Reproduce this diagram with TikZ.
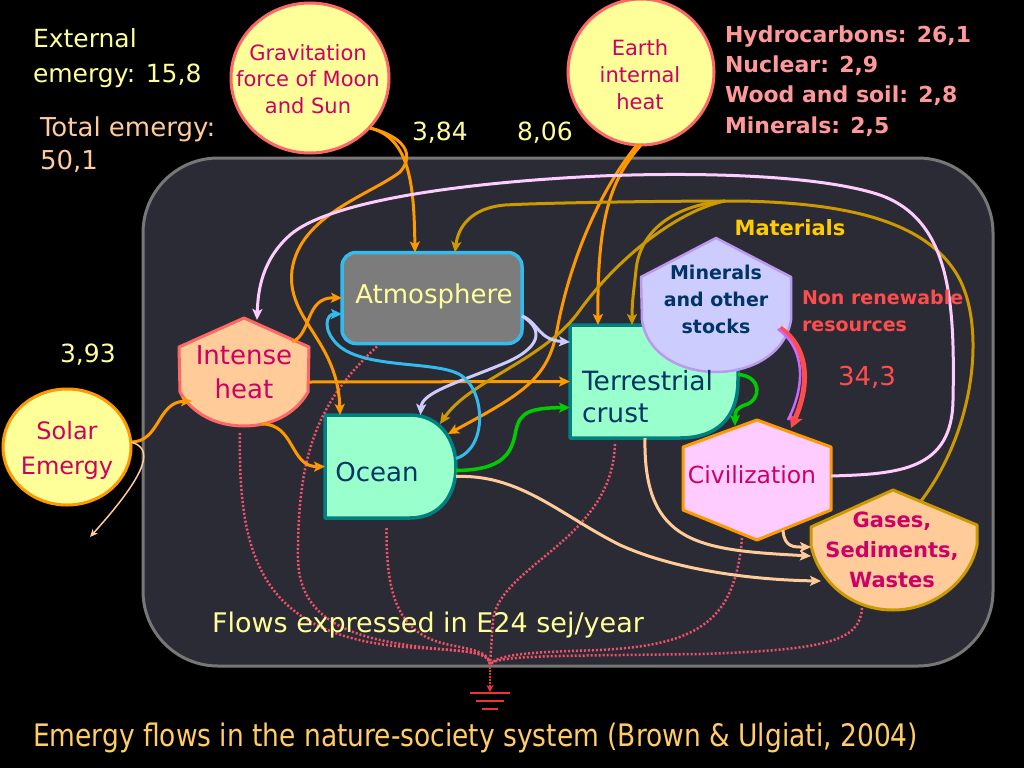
\documentclass[tikz,border=0pt]{standalone}
\usepackage{fontspec}
\usepackage{graphicx}
\setmainfont{DejaVu Sans}
\usetikzlibrary{arrows.meta,calc,shapes.geometric}
\definecolor{frameFill}{HTML}{2B2B36}
\definecolor{frameLine}{HTML}{777777}
\definecolor{lightYellow}{HTML}{FFFF99}
\definecolor{peach}{HTML}{FFCC99}
\definecolor{magentaText}{HTML}{CC0066}
\definecolor{circleRed}{HTML}{FF6666}
\definecolor{flowOrange}{HTML}{FF9900}
\definecolor{goldLine}{HTML}{CC9900}
\definecolor{pinkLine}{HTML}{FFCCFF}
\definecolor{lavender}{HTML}{CCCCFF}
\definecolor{skyBlue}{HTML}{33BBEE}
\definecolor{flowGreen}{HTML}{00CC00}
\definecolor{tealLine}{HTML}{008080}
\definecolor{mint}{HTML}{99FFCC}
\definecolor{navyText}{HTML}{003366}
\definecolor{salmon}{HTML}{FF9999}
\definecolor{nonrenewRed}{HTML}{FF4D4D}
\definecolor{matGold}{HTML}{FFCC00}
\definecolor{dotRed}{HTML}{F05068}
\definecolor{capYellow}{HTML}{FFCC66}
\definecolor{atmGray}{HTML}{7C7C7C}
\definecolor{minBorder}{HTML}{BB99EE}
\definecolor{minFill}{HTML}{CCCCFF}
\definecolor{civFill}{HTML}{FFCCFF}
\definecolor{purpleArrow}{HTML}{CC66FF}
\definecolor{groundRed}{HTML}{EE3333}
\tikzset{
  flowbase/.style={line width=3pt, -{Stealth[length=11pt,width=10pt,inset=2.5pt]}},
  oflow/.style={flowbase, draw=flowOrange},
  gflow/.style={flowbase, draw=goldLine},
  pflow/.style={flowbase, draw=pinkLine},
  lflow/.style={flowbase, draw=lavender},
  bflow/.style={flowbase, draw=skyBlue},
  grflow/.style={flowbase, draw=flowGreen, line width=3.5pt},
  pkflow/.style={flowbase, draw=peach},
  dots/.style={draw=dotRed, line width=2.5pt, dash pattern=on 2pt off 2pt},
  mintshape/.style={fill=mint, draw=tealLine, line width=3.5pt, line join=round},
  txt/.style={font=\fontsize{25}{33}\selectfont},
}
\begin{document}
\begin{tikzpicture}[x=1pt,y=-1pt, every node/.style={inner sep=0pt, outer sep=0pt}]
\useasboundingbox (0,0) rectangle (1024,768);
\fill[black] (0,0) rectangle (1024,768);
% frame
\draw[draw=frameLine, fill=frameFill, line width=3pt, rounded corners=75pt] (143,158) rectangle (993,666);

% bounding nodes of drawn shapes
\node[minimum width=130pt, minimum height=108pt] (heat) at (244,372) {};
\node[minimum width=131pt, minimum height=103pt] (ocean) at (390.5,466.5) {};
\node[minimum width=168pt, minimum height=113pt] (crust) at (654,381.5) {};
\node[minimum width=150pt, minimum height=134pt] (mins) at (716,305) {};
\node[minimum width=148pt, minimum height=120pt] (civ) at (757,480) {};
\node[minimum width=166pt, minimum height=120pt] (gas) at (894,550) {};

% shapes
\node[draw=skyBlue, fill=atmGray, line width=3.5pt, rounded corners=14pt, minimum width=180pt, minimum height=91pt] (atm) at (432,298) {};
\draw[fill=peach, draw=circleRed, line width=3pt, line join=round]
  (244,318) -- (309,347) -- (308,392) .. controls (295,415) and (270,426) .. (244,426)
  .. controls (218,426) and (193,415) .. (180,392) -- (179,347) -- cycle;
\draw[mintshape] (325,415) -- (410,415) .. controls (440,415) and (456,440) .. (456,467)
  .. controls (456,495) and (440,518) .. (410,518) -- (325,518) -- cycle;
\draw[mintshape] (570,325) -- (738,325) -- (738,380) .. controls (738,420) and (715,438) .. (680,438)
  -- (570,438) -- cycle;
\draw[fill=minFill, draw=minBorder, line width=2.5pt, line join=round]
  (716,238) -- (791,277) -- (791,320) .. controls (785,355) and (750,372) .. (716,372)
  .. controls (682,372) and (647,355) .. (642,320) -- (641,277) -- cycle;
\draw[fill=civFill, draw=flowOrange, line width=3pt, line join=round]
  (757,420) -- (831,447) -- (831,510) -- (757,540) -- (683,510) -- (683,447) -- cycle;
\draw[fill=peach, draw=goldLine, line width=3pt, line join=round]
  (893,490) -- (977,525) -- (977,545) .. controls (970,580) and (935,610) .. (893,610)
  .. controls (850,610) and (818,580) .. (811,545) -- (811,527) -- cycle;

% circles
\node[ellipse, draw=circleRed, fill=lightYellow, line width=3pt, minimum width=158pt, minimum height=150pt] (grav) at (310,78) {};
\node[ellipse, draw=circleRed, fill=lightYellow, line width=3pt, minimum width=146pt, minimum height=146pt] (earth) at (641,72) {};
\node[ellipse, draw=flowOrange, fill=lightYellow, line width=3pt, minimum width=128pt, minimum height=116pt] (solar) at (67,447) {};

\coordinate (solarout) at (90,537);
\coordinate (matfork) at (725,201);
\coordinate (merge) at (490,664);
\coordinate (ground) at (490,692);

% dotted flows to the heat sink
\draw[dots] ($(heat.south)+(-4,7)$) .. controls (238,560) and (262,640) .. (420,648) .. controls (470,651) and (488,652) .. (merge);
\draw[dots] ($(atm.south west)+(35,3)$) .. controls (320,400) and (297,450) .. (298,560) .. controls (300,625) and (360,640) .. (430,648) .. controls (470,652) and (488,652) .. (merge);
\draw[dots] ($(ocean.south)+(-4,10)$) .. controls (386,600) and (400,635) .. (450,645) .. controls (475,650) and (488,652) .. (merge);
\draw[dots] ($(crust.south)+(-39,6)$) .. controls (612,540) and (500,565) .. (493,620) -- (merge);
\draw[dots] ($(civ.south)+(-15,-2)$) .. controls (735,620) and (700,645) .. (600,650) .. controls (540,652) and (500,653) .. (merge);
\draw[dots] ($(gas.south)+(-32,-2)$) .. controls (860,640) and (830,650) .. (700,654) .. controls (560,656) and (500,655) .. (merge);
\draw[draw=groundRed, line width=2.6pt, dash pattern=on 2pt off 1pt, -{Stealth[length=7pt,width=7pt]}] (merge) -- (ground);
\draw[groundRed, line width=2.5pt] (470,693) -- (510,693) (476,701) -- (504,701) (482,709) -- (498,709);

% solar flows
\draw[oflow] ($(solar.east)+(0,-5)$) .. controls (160,442) and (157,402) .. ($(heat.center)+(-52,29)$);
\draw[draw=peach, line width=1.5pt, -{Stealth[length=8pt,width=7pt]}] ($(solar.east)+(0,-5)$) .. controls (152,448) and (152,468) .. (solarout);

% intense heat flows
\draw[oflow] ($(heat.center)+(48,-30)$) .. controls (312,334) and (305,297) .. (atm.west);
\draw[oflow] ($(heat.south)+(18,-2)$) .. controls (295,424) and (290,467) .. (ocean.west);
\draw[oflow] ($(heat.east)+(0,10)$) -- (crust.west);

% tidal flows
\draw[oflow] ($(grav.center)+(60,50)$) .. controls (410,138) and (414,185) .. ($(atm.north)+(-17,0)$);
\draw[oflow] ($(grav.center)+(60,50)$) .. controls (405,137) and (415,155) .. (400,172) .. controls (370,195) and (300,215) .. (292,270) .. controls (286,320) and (338,340) .. ($(ocean.north west)+(15,0)$);

% deep heat flows
\draw[oflow] (earth.south) .. controls (612,178) and (597,215) .. ($(crust.north west)+(28,0)$);
\draw[oflow] ($(earth.south)+(-4,0)$) .. controls (600,190) and (570,260) .. (557,330) .. controls (548,380) and (520,395) .. ($(ocean.north east)+(-8,19)$);

% materials
\draw[gflow] ($(gas.north)+(27,11)$) .. controls (975,430) and (985,330) .. (960,280) .. controls (930,222) and (850,203) .. (740,201) .. controls (650,201) and (540,203) .. (505,205) .. controls (470,208) and (458,228) .. ($(atm.north)+(23,0)$);
\draw[gflow] (matfork) .. controls (675,205) and (640,230) .. (636,270) .. controls (634,290) and (632,300) .. ($(crust.north west)+(62,0)$);
\draw[gflow] (matfork) .. controls (680,210) and (620,255) .. (580,310) .. controls (545,360) and (470,380) .. ($(ocean.north east)+(-16,9)$);

% civilization feedback
\draw[pflow] ($(civ.east)+(0,-4)$) .. controls (900,474) and (952,470) .. (953,400) .. controls (955,300) and (950,220) .. (880,195) .. controls (820,175) and (700,172) .. (600,176) .. controls (470,182) and (330,200) .. (290,235) .. controls (262,260) and (258,290) .. ($(heat.north)+(13,2)$);

% atmosphere flows
\draw[lflow] ($(atm.east)+(0,18)$) .. controls (538,322) and (538,340) .. ($(crust.north west)+(0,17)$);
\draw[lflow] ($(atm.east)+(0,18)$) .. controls (545,330) and (540,348) .. (505,363) .. controls (460,382) and (422,392) .. ($(ocean.north)+(30,0)$);

% ocean flows
\draw[bflow] ($(ocean.east)+(0,-8)$) .. controls (488,448) and (485,392) .. (462,376) .. controls (440,360) and (365,370) .. (338,345) .. controls (322,330) and (326,314) .. ($(atm.west)+(0,16)$);
\draw[grflow] ($(ocean.east)+(0,4)$) .. controls (505,470) and (512,452) .. (516,430) .. controls (520,412) and (530,408) .. ($(crust.west)+(0,26)$);
\draw[grflow] ($(crust.east)+(0,-7)$) .. controls (762,376) and (762,400) .. (745,405) .. controls (736,408) and (735,412) .. ($(civ.north)+(-22,6)$);

% non renewable use
\draw[draw=nonrenewRed, line width=5pt, -{Stealth[length=13pt,width=14pt,inset=3pt]}] ($(mins.center)+(64,23)$) .. controls (806,345) and (812,380) .. ($(civ.north)+(34,8)$);
\draw[draw=purpleArrow, line width=2.5pt] ($(mins.center)+(62,24)$) .. controls (802,346) and (808,380) .. ($(civ.north)+(31,0)$);

% wastes
\draw[pkflow] ($(crust.south)+(-9,0)$) .. controls (643,545) and (700,550) .. ($(gas.west)+(0,6)$);
\draw[pkflow] ($(ocean.east)+(0,10)$) .. controls (520,474) and (560,515) .. (620,545) .. controls (680,572) and (760,580) .. ($(gas.west)+(10,31)$);
\draw[pkflow] ($(civ.south)+(26,-10)$) .. controls (784,548) and (795,547) .. ($(gas.west)+(0,-3)$);

% texts
\node[anchor=west, align=left, text=lightYellow, font=\fontsize{25}{35}\selectfont] (extT) at (33,58) {External\\emergy: 15,8};
\node[anchor=west, align=left, text=peach, font=\fontsize{26}{33}\selectfont] (totT) at (40,145) {Total emergy:\\50,1};
\node[align=center, text=magentaText, font=\fontsize{21}{26.5}\selectfont] (gravT) at (308,79) {Gravitation\\force of Moon\\and Sun};
\node[align=center, text=magentaText, font=\fontsize{21}{27}\selectfont] (earthT) at (640,75) {Earth\\internal\\heat};
\node[anchor=base west, text=lightYellow, txt] (v384) at (412,140) {3,84};
\node[anchor=base west, text=lightYellow, txt] (v806) at (517,140) {8,06};
\node[anchor=base west, text=lightYellow, txt] (v393) at (60,362) {3,93};
\node[anchor=west, align=left, text=salmon, font=\bfseries\fontsize{22}{30.3}\selectfont] (resT) at (725,81) {Hydrocarbons: 26,1\\Nuclear: 2,9\\Wood and soil: 2,8\\Minerals: 2,5};
\node[align=center, text=magentaText, font=\fontsize{24}{35}\selectfont] (solarT) at (67,450) {Solar\\Emergy};
\node[align=center, text=magentaText, font=\fontsize{26}{34}\selectfont] (heatT) at (244,372) {Intense\\heat};
\node[anchor=base, text=lightYellow, font=\fontsize{26}{32}\selectfont] (atmT) at (434,303) {Atmosphere};
\node[anchor=base, text=navyText, font=\fontsize{26}{32}\selectfont] (oceanT) at (377,481) {Ocean};
\node[anchor=west, align=left, text=navyText, font=\fontsize{26.5}{32}\selectfont] (crustT) at (582,397) {Terrestrial\\crust};
\node[align=center, text=navyText, font=\bfseries\fontsize{19}{27}\selectfont] (minsT) at (716,299) {Minerals\\and other\\stocks};
\node[anchor=base, text=magentaText, font=\fontsize{23.5}{30}\selectfont] (civT) at (752,483) {Civilization};
\node[align=center, text=magentaText, font=\bfseries\fontsize{21}{30}\selectfont] (gasT) at (892,550) {Gases,\\Sediments,\\Wastes};
\node[anchor=base, text=matGold, font=\bfseries\fontsize{21}{25}\selectfont] (matT) at (790,235) {Materials};
\node[anchor=west, align=left, text=nonrenewRed, font=\bfseries\fontsize{19}{27}\selectfont] (nrT) at (802,311) {Non renewable\\resources};
\node[anchor=base west, text=nonrenewRed, font=\fontsize{26}{32}\selectfont] (v343) at (838,385) {34,3};
\node[anchor=base, text=lightYellow, font=\fontsize{27}{33}\selectfont] (flowsT) at (428,632) {Flows expressed in E24 sej/year};
\node[anchor=base west, text=capYellow] (capT) at (33,746) {\resizebox{885pt}{\height}{\fontsize{31}{36}\selectfont Emergy flows in the nature-society system (Brown \& Ulgiati, 2004)}};
\end{tikzpicture}
\end{document}
